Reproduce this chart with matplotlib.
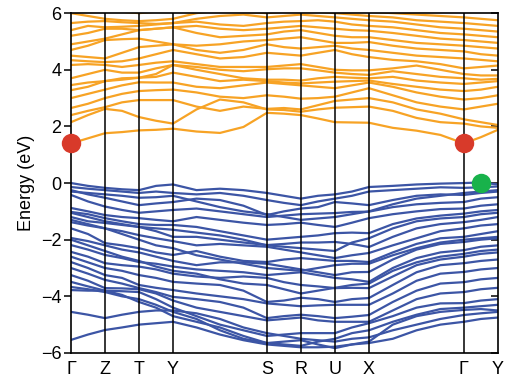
import matplotlib
matplotlib.use('Agg')
import matplotlib.pyplot as plt
import matplotlib.lines as mlines

# high symmetry points along the path
labels = ['Γ', 'Z', 'T', 'Y', 'S', 'R', 'U', 'X', 'Γ', 'Y']
kpts = [0, 1, 2, 3, 5.76, 6.76, 7.76, 8.76, 11.55, 12.55]
# sampling of the path (high symmetry points plus points between them)
kpath = [0, 0.5, 1, 1.5, 2, 2.5, 3, 3.69, 4.38, 5.07, 5.76, 6.26, 6.76, 7.26,
         7.76, 8.26, 8.76, 9.46, 10.16, 10.86, 11.55, 12.05, 12.55]

# conduction bands (eV)
cb = [
    [1.40, 1.58, 1.76, 1.80, 1.86, 1.88, 1.92, 1.82, 1.77, 1.98, 2.48, 2.45, 2.40, 2.28, 2.15, 2.14, 2.13, 1.95, 1.85, 1.70, 1.40, 1.62, 1.88],
    [2.15, 2.40, 2.62, 2.55, 2.33, 2.20, 2.10, 2.60, 2.95, 2.85, 2.60, 2.58, 2.52, 2.60, 2.66, 2.68, 2.70, 2.55, 2.30, 2.15, 2.10, 2.00, 1.95],
    [2.40, 2.55, 2.68, 2.85, 2.93, 2.93, 2.93, 2.70, 2.55, 2.70, 2.62, 2.65, 2.60, 2.75, 2.90, 2.95, 3.00, 2.85, 2.60, 2.45, 2.25, 2.15, 2.05],
    [2.65, 2.80, 3.00, 3.15, 3.25, 3.28, 3.30, 3.20, 3.05, 3.00, 3.10, 3.05, 2.98, 3.00, 3.05, 3.20, 3.35, 3.10, 2.85, 2.70, 2.60, 2.70, 2.80],
    [3.00, 3.15, 3.30, 3.45, 3.56, 3.55, 3.55, 3.40, 3.35, 3.45, 3.55, 3.50, 3.45, 3.40, 3.35, 3.45, 3.55, 3.40, 3.20, 3.05, 2.95, 3.00, 3.10],
    [3.28, 3.40, 3.60, 3.70, 3.72, 3.75, 3.90, 3.75, 3.60, 3.65, 3.60, 3.55, 3.52, 3.55, 3.58, 3.60, 3.62, 3.50, 3.40, 3.30, 3.25, 3.30, 3.40],
    [3.46, 3.55, 3.60, 3.65, 3.72, 3.85, 4.17, 4.00, 3.85, 3.70, 3.65, 3.65, 3.62, 3.70, 3.75, 3.72, 3.70, 3.75, 3.62, 3.55, 3.50, 3.55, 3.60],
    [3.70, 3.85, 4.00, 3.90, 3.90, 4.05, 4.17, 4.10, 4.00, 3.95, 4.02, 4.05, 4.05, 3.98, 3.90, 3.85, 3.82, 3.95, 3.85, 3.75, 3.70, 3.65, 3.68],
    [4.17, 4.20, 4.17, 4.10, 4.17, 4.25, 4.30, 4.20, 4.10, 4.10, 4.10, 4.15, 4.20, 4.10, 4.00, 3.98, 3.98, 4.05, 4.15, 4.00, 3.85, 3.80, 3.80],
    [4.34, 4.30, 4.27, 4.30, 4.40, 4.55, 4.70, 4.55, 4.40, 4.45, 4.60, 4.55, 4.50, 4.60, 4.70, 4.55, 4.45, 4.35, 4.30, 4.20, 4.05, 4.10, 4.15],
    [4.50, 4.45, 4.40, 4.60, 4.80, 4.85, 4.90, 4.70, 4.60, 4.70, 4.90, 4.80, 4.75, 4.80, 4.85, 4.75, 4.70, 4.60, 4.50, 4.45, 4.40, 4.35, 4.30],
    [4.70, 4.85, 5.05, 5.08, 5.10, 5.00, 4.90, 4.85, 4.90, 5.00, 5.05, 5.10, 5.15, 5.05, 4.95, 4.95, 4.98, 4.85, 4.75, 4.70, 4.65, 4.55, 4.50],
    [4.90, 5.00, 5.10, 5.25, 5.40, 5.45, 5.50, 5.30, 5.15, 5.20, 5.25, 5.35, 5.40, 5.30, 5.20, 5.15, 5.15, 5.05, 4.95, 4.90, 4.85, 4.80, 4.75],
    [5.20, 5.30, 5.45, 5.45, 5.40, 5.45, 5.50, 5.55, 5.45, 5.40, 5.45, 5.50, 5.55, 5.50, 5.45, 5.40, 5.38, 5.30, 5.20, 5.10, 5.05, 5.00, 4.95],
    [5.40, 5.55, 5.50, 5.52, 5.55, 5.60, 5.65, 5.70, 5.60, 5.55, 5.65, 5.70, 5.72, 5.75, 5.70, 5.60, 5.55, 5.50, 5.40, 5.30, 5.25, 5.20, 5.15],
    [5.65, 5.70, 5.72, 5.68, 5.65, 5.62, 5.65, 5.80, 5.90, 5.95, 5.85, 5.90, 5.95, 5.90, 5.85, 5.80, 5.75, 5.70, 5.60, 5.50, 5.45, 5.40, 5.35],
    [6.00, 5.90, 5.80, 5.75, 5.72, 5.75, 5.80, 6.00, 6.10, 6.05, 6.00, 6.05, 6.10, 6.05, 6.00, 5.95, 5.90, 5.85, 5.75, 5.70, 5.65, 5.60, 5.55],
    [6.30, 6.20, 6.10, 6.05, 6.00, 6.05, 6.10, 6.20, 6.25, 6.20, 6.15, 6.20, 6.25, 6.20, 6.15, 6.10, 6.05, 6.00, 5.95, 5.90, 5.85, 5.80, 5.75],
]

# valence bands (eV)
vb = [
    [0.00, -0.10, -0.17, -0.22, -0.25, -0.10, -0.05, -0.25, -0.20, -0.25, -0.35, -0.45, -0.55, -0.45, -0.40, -0.30, -0.14, -0.10, -0.05, -0.02, 0.00, 0.02, -0.05],
    [-0.14, -0.20, -0.25, -0.30, -0.35, -0.30, -0.35, -0.40, -0.35, -0.45, -0.60, -0.70, -0.78, -0.65, -0.55, -0.45, -0.30, -0.25, -0.20, -0.15, -0.17, -0.15, -0.12],
    [-0.30, -0.35, -0.40, -0.45, -0.52, -0.50, -0.45, -0.65, -0.85, -1.00, -1.10, -1.20, -1.30, -1.25, -1.20, -1.10, -1.00, -0.75, -0.55, -0.45, -0.35, -0.30, -0.25],
    [-0.25, -0.40, -0.52, -0.65, -0.78, -0.72, -0.67, -0.55, -0.60, -0.80, -1.13, -1.00, -0.90, -0.85, -0.67, -0.72, -0.78, -0.60, -0.45, -0.40, -0.42, -0.35, -0.30],
    [-0.42, -0.65, -0.83, -0.95, -1.05, -1.00, -0.95, -0.90, -1.00, -1.10, -1.20, -1.15, -1.10, -1.08, -1.06, -1.02, -1.01, -0.85, -0.75, -0.70, -0.67, -0.55, -0.50],
    [-0.88, -1.00, -1.13, -1.20, -1.24, -1.30, -1.35, -1.20, -1.30, -1.40, -1.48, -1.45, -1.40, -1.48, -1.55, -1.40, -1.24, -1.10, -1.00, -0.92, -0.90, -0.80, -0.75],
    [-1.02, -1.10, -1.24, -1.35, -1.45, -1.48, -1.48, -1.55, -1.70, -1.85, -2.00, -1.95, -1.90, -1.85, -1.77, -1.75, -1.77, -1.45, -1.25, -1.15, -1.08, -1.00, -0.95],
    [-1.05, -1.20, -1.35, -1.45, -1.55, -1.60, -1.65, -1.75, -1.85, -2.00, -2.20, -2.25, -2.30, -2.35, -2.40, -2.10, -1.95, -1.60, -1.35, -1.25, -1.20, -1.10, -1.05],
    [-1.20, -1.35, -1.41, -1.48, -1.55, -1.70, -1.90, -1.90, -2.00, -2.10, -2.19, -2.15, -2.10, -2.10, -2.08, -2.15, -2.26, -1.90, -1.60, -1.45, -1.38, -1.30, -1.20],
    [-1.30, -1.45, -1.60, -1.80, -2.00, -2.20, -2.30, -2.55, -2.70, -2.85, -3.00, -3.05, -3.10, -3.00, -2.90, -2.85, -2.85, -2.55, -2.30, -2.10, -2.00, -1.95, -1.90],
    [-1.38, -1.50, -1.60, -1.70, -1.84, -1.95, -2.05, -2.20, -2.15, -2.20, -2.25, -2.35, -2.45, -2.55, -2.65, -2.55, -2.47, -2.20, -1.95, -1.70, -1.60, -1.50, -1.45],
    [-1.60, -1.80, -2.12, -2.20, -2.30, -2.45, -2.54, -2.40, -2.60, -2.75, -2.79, -2.70, -2.65, -2.70, -2.75, -2.75, -2.79, -2.45, -2.15, -1.95, -1.90, -1.80, -1.70],
    [-1.94, -2.05, -2.20, -2.35, -2.45, -2.60, -2.75, -2.90, -2.80, -2.80, -2.85, -2.95, -3.05, -3.15, -3.25, -3.15, -3.14, -2.70, -2.35, -2.15, -2.08, -2.00, -1.95],
    [-2.00, -2.20, -2.40, -2.60, -2.75, -2.95, -3.10, -3.20, -3.40, -3.55, -3.60, -3.75, -3.90, -3.80, -3.70, -3.60, -3.55, -3.10, -2.80, -2.60, -2.50, -2.40, -2.35],
    [-2.19, -2.35, -2.54, -2.65, -2.79, -2.85, -2.95, -3.05, -3.10, -3.15, -3.25, -3.20, -3.15, -3.25, -3.35, -3.40, -3.49, -3.00, -2.65, -2.45, -2.37, -2.25, -2.20],
    [-2.43, -2.60, -2.83, -2.90, -2.95, -3.05, -3.20, -3.30, -3.35, -3.30, -3.35, -3.50, -3.60, -3.65, -3.71, -3.70, -3.71, -3.30, -2.90, -2.70, -2.60, -2.50, -2.45],
    [-2.60, -2.80, -3.00, -3.10, -3.25, -3.35, -3.49, -3.55, -3.60, -3.80, -4.20, -4.15, -4.05, -4.10, -4.20, -4.10, -4.06, -3.60, -3.15, -2.90, -2.83, -2.75, -2.70],
    [-2.79, -3.00, -3.25, -3.35, -3.60, -3.70, -3.78, -3.90, -4.00, -4.10, -4.25, -4.30, -4.35, -4.32, -4.30, -4.30, -4.30, -3.90, -3.45, -3.20, -3.14, -3.05, -3.00],
    [-3.00, -3.20, -3.42, -3.55, -3.71, -3.85, -4.02, -4.10, -4.20, -4.40, -4.77, -4.70, -4.65, -4.70, -4.77, -4.72, -4.66, -4.20, -3.80, -3.55, -3.50, -3.40, -3.35],
    [-3.25, -3.45, -3.71, -3.72, -3.75, -3.90, -4.15, -4.40, -4.55, -4.70, -4.85, -4.80, -4.75, -4.85, -4.90, -4.90, -4.90, -4.50, -4.10, -3.90, -3.85, -3.75, -3.70],
    [-3.49, -3.65, -3.80, -3.82, -3.85, -4.10, -4.40, -4.70, -5.00, -5.20, -5.40, -5.35, -5.30, -5.30, -5.30, -5.10, -4.95, -4.70, -4.40, -4.25, -4.24, -4.15, -4.10],
    [-3.67, -3.75, -3.85, -4.00, -4.10, -4.30, -4.55, -4.80, -5.20, -5.50, -5.65, -5.60, -5.55, -5.70, -5.83, -5.70, -5.60, -5.00, -4.70, -4.55, -4.48, -4.45, -4.50],
    [-3.78, -3.80, -3.80, -3.95, -4.20, -4.40, -4.70, -4.90, -5.10, -5.40, -5.65, -5.70, -5.75, -5.60, -5.50, -5.30, -5.20, -4.90, -4.65, -4.45, -4.40, -4.35, -4.30],
    [-4.55, -4.65, -4.77, -4.65, -4.55, -4.50, -4.50, -4.60, -4.80, -5.10, -5.30, -5.40, -5.50, -5.55, -5.60, -5.50, -5.45, -5.20, -5.00, -4.80, -4.66, -4.60, -4.55],
    [-5.54, -5.35, -5.19, -5.10, -5.00, -4.95, -4.90, -5.10, -5.35, -5.55, -5.70, -5.75, -5.80, -5.80, -5.78, -5.70, -5.65, -5.50, -5.20, -5.00, -4.90, -4.80, -4.75],
]

# band edge markers: (k, E)
cbm_pts = [(0, 1.40), (11.55, 1.40)]
vbm_pt = (12.05, 0.0)

orange = '#F7A325'
blue = '#3C55A5'

plt.rcParams['font.family'] = ['Liberation Sans', 'DejaVu Sans']
fig = plt.figure(figsize=(5.07, 3.87), dpi=100)
ax = fig.add_axes([0.140, 0.088, 0.842, 0.878])

for b in cb:
    ax.plot(kpath, b, color=orange, lw=1.6, solid_joinstyle='round', solid_capstyle='round')
for b in vb:
    ax.plot(kpath, b, color=blue, lw=1.6, solid_joinstyle='round', solid_capstyle='round')

for k in kpts[1:-1]:
    ax.axvline(k, color='black', lw=1.1, zorder=3)

for k, e in cbm_pts:
    ax.plot(k, e, 'o', ms=14, color='#D83A2A', mec='none', clip_on=False, zorder=5)
ax.plot(vbm_pt[0], vbm_pt[1], 'o', ms=14, color='#18B24B', mec='none', clip_on=False, zorder=5)

ax.set_xlim(kpts[0], kpts[-1])
ax.set_ylim(-6, 6)
ax.set_xticks(kpts)
ax.set_xticklabels(labels, fontsize=13)
ax.tick_params(axis='x', length=0, pad=6)
ax.set_yticks([-6, -4, -2, 0, 2, 4, 6])
ax.set_yticklabels(['−6', '−4', '−2', '0', '2', '4', '6'])
ax.tick_params(axis='y', direction='out', length=5, labelsize=13, width=1.1, pad=2,
               right=True, labelright=False)
# right side ticks point inwards
for t in ax.yaxis.get_major_ticks():
    t.tick2line.set_marker(mlines.TICKLEFT)
for s in ax.spines.values():
    s.set_linewidth(1.2)
ax.set_ylabel('Energy (eV)', fontsize=13, labelpad=4)

fig.savefig('out.png', dpi=100)
